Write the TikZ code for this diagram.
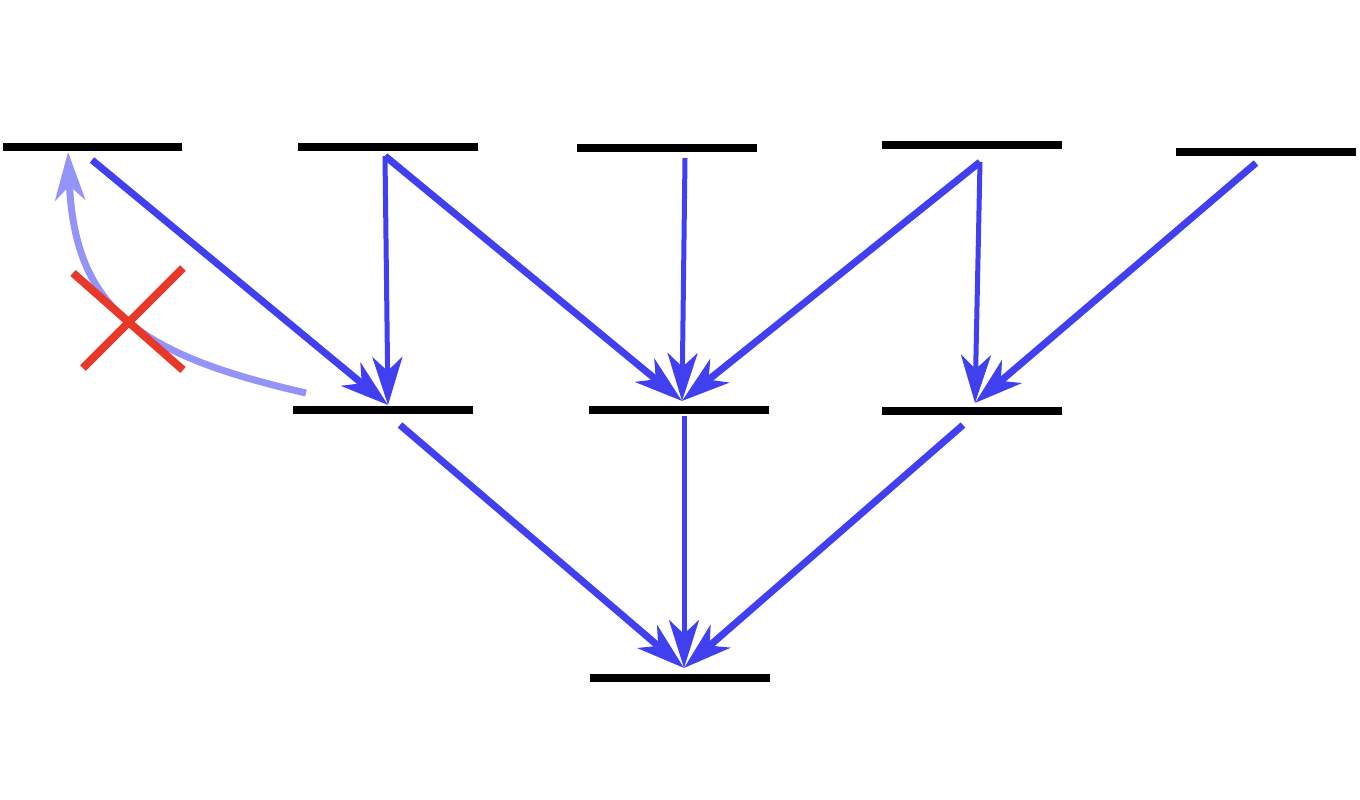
\documentclass[tikz,border=0pt]{standalone}
\usetikzlibrary{arrows.meta}
\definecolor{ab}{HTML}{4040F0}
\definecolor{fb}{HTML}{9494F8}
\definecolor{rx}{HTML}{E8382A}
\tikzset{lvl/.style={line width=8pt,black},
 arr/.style={ab,line width=7pt,-{Stealth[length=48pt,width=30pt,inset=14pt]}},
 arrthin/.style={arr,line width=5pt}}
\begin{document}
\begin{tikzpicture}[x=1pt,y=-1pt]
\useasboundingbox (0,0) rectangle (1360,800);
% levels
\draw[lvl] (3,147) -- (182,147);
\draw[lvl] (298,147) -- (478,147);
\draw[lvl] (577,148) -- (757,148);
\draw[lvl] (882,145) -- (1062,145);
\draw[lvl] (1176,152) -- (1356,152);
\draw[lvl] (293,410) -- (473,410);
\draw[lvl] (589,410) -- (769,410);
\draw[lvl] (882,411) -- (1062,411);
\draw[lvl] (590,678) -- (770,678);
% points
\coordinate (a) at (92,160);
\coordinate (b) at (385,156);
\coordinate (c) at (685,158);
\coordinate (d) at (980,162);
\coordinate (e) at (1256,163);
\coordinate (m1) at (388,405);
\coordinate (m2) at (682,401);
\coordinate (m3) at (975,403);
\coordinate (m1s) at (400,425);
\coordinate (m2s) at (684,416);
\coordinate (m3s) at (963,425);
\coordinate (bt) at (684,668);
\coordinate (fs) at (306,393);
\coordinate (ft) at (68,152);
\draw[arr] (a) -- (m1);
\draw[arrthin] (b) -- (m1);
\draw[arr] (b) -- (m2);
\draw[arrthin] (c) -- (m2);
\draw[arr] (d) -- (m2);
\draw[arrthin] (d) -- (m3);
\draw[arr] (e) -- (m3);
\draw[arr] (m1s) -- (bt);
\draw[arrthin] (m2s) -- (bt);
\draw[arr] (m3s) -- (bt);
\draw[fb,line width=7pt,-{Stealth[length=48pt,width=30pt,inset=14pt]}] (fs) .. controls (140,355) and (75,310) .. (ft);
\draw[rx,line width=8pt] (73,273) -- (183,370);
\draw[rx,line width=8pt] (183,268) -- (83,368);
\end{tikzpicture}
\end{document}
